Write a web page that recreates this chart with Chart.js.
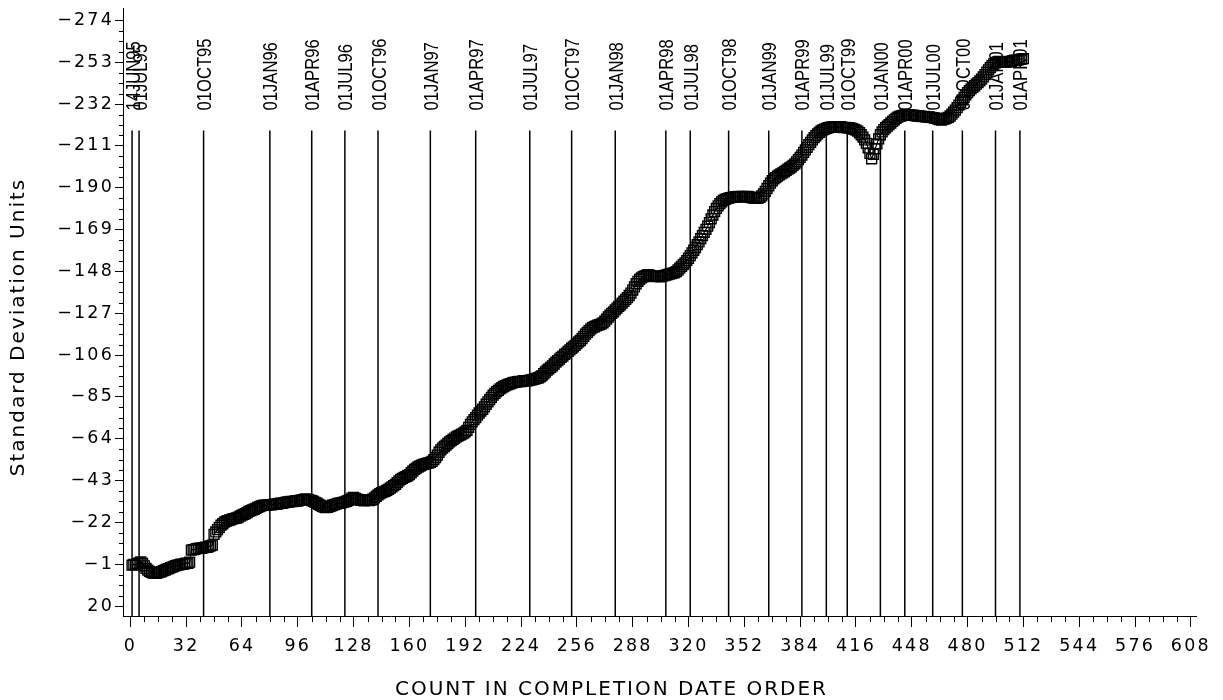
<!DOCTYPE html>
<html>
<head>
<meta charset="utf-8">
<script src="https://cdn.jsdelivr.net/npm/chart.js@4.4.1/dist/chart.umd.min.js"></script>
<style>
  html, body { margin: 0; padding: 0; background: #fff; }
  #c { display: block; }
</style>
</head>
<body>
<canvas id="c" width="1223" height="700"></canvas>
<script>
// Cumulative sum (standard deviation units), one value per count in completion-date order.
const cusum = [
  -0.5, -0.9, -0.7, -1.3, -1.6, -2.1, -1.4, -0.2, 1.1, 2.0,
  2.6, 3.1, 3.5, 3.3, 3.6, 3.2, 3.0, 2.7, 2.2, 1.9,
  1.5, 1.2, 0.7, 0.5, 0.1, -0.3, -0.5, -0.7, -1.0, -0.9,
  -1.2, -1.5, -1.4, -2.0, -8.1, -8.3, -8.4, -8.8, -8.9, -9.1,
  -9.0, -9.3, -9.6, -9.5, -9.9, -10.2, -10.6, -16.0, -17.2, -18.4,
  -19.5, -20.6, -21.3, -22.1, -22.6, -22.9, -23.2, -23.5, -23.9, -24.0,
  -24.2, -24.6, -25.1, -25.6, -26.0, -26.4, -26.9, -27.5, -27.9, -28.3,
  -28.6, -29.0, -29.5, -29.9, -30.3, -30.5, -30.6, -30.5, -30.8, -30.9,
  -30.8, -31.0, -31.2, -31.1, -31.4, -31.6, -31.5, -31.8, -32.0, -32.3,
  -32.2, -32.5, -32.4, -32.6, -32.8, -32.7, -33.0, -33.2, -33.4, -33.6,
  -33.7, -33.5, -33.2, -32.9, -32.5, -32.0, -31.6, -31.0, -30.5, -30.0,
  -29.7, -29.4, -29.5, -29.9, -30.2, -30.6, -30.9, -31.2, -31.5, -31.6,
  -31.8, -32.0, -32.3, -32.6, -33.0, -33.4, -34.2, -34.5, -34.0, -33.6,
  -33.4, -33.1, -33.0, -32.8, -33.0, -33.1, -32.9, -33.2, -33.6, -34.3,
  -35.1, -35.8, -36.4, -36.9, -37.3, -37.6, -38.1, -38.6, -39.2, -39.8,
  -40.4, -41.1, -42.0, -42.8, -43.6, -44.1, -44.6, -45.0, -45.4, -46.0,
  -46.9, -47.8, -48.6, -49.2, -49.8, -50.3, -50.7, -51.1, -51.4, -51.6,
  -51.8, -52.1, -52.6, -53.5, -54.5, -55.8, -57.2, -58.4, -59.3, -60.1,
  -60.8, -61.6, -62.4, -63.0, -63.7, -64.3, -64.9, -65.4, -65.8, -66.3,
  -66.8, -67.4, -68.2, -69.7, -71.2, -72.5, -73.6, -74.6, -75.8, -76.9,
  -77.9, -78.8, -80.0, -81.3, -82.5, -83.6, -84.8, -85.9, -86.8, -87.6,
  -88.3, -89.0, -89.6, -90.2, -90.6, -91.0, -91.4, -91.7, -92.0, -92.3,
  -92.4, -92.6, -92.8, -92.7, -93.0, -93.1, -92.9, -93.2, -93.4, -93.5,
  -93.8, -94.1, -94.3, -94.6, -95.0, -95.7, -96.6, -97.5, -98.4, -99.1,
  -99.8, -100.6, -101.5, -102.4, -103.2, -104.0, -104.8, -105.5, -106.3, -107.0,
  -107.8, -108.6, -109.4, -110.1, -110.9, -111.7, -112.6, -113.3, -114.3, -115.4,
  -116.5, -117.4, -118.3, -119.1, -119.8, -120.2, -120.6, -121.0, -121.3, -121.6,
  -122.2, -123.0, -124.0, -125.1, -126.0, -126.9, -127.7, -128.7, -129.6, -130.4,
  -131.2, -132.1, -133.0, -133.9, -134.8, -135.9, -137.1, -138.6, -140.2, -141.8,
  -143.0, -144.0, -144.7, -145.3, -145.7, -146.1, -146.3, -146.0, -145.7, -145.5,
  -145.4, -145.6, -145.5, -145.3, -145.6, -145.9, -146.1, -146.4, -146.6, -146.9,
  -147.1, -147.4, -147.9, -148.7, -149.6, -150.5, -151.4, -152.3, -153.4, -154.6,
  -155.9, -157.3, -158.6, -160.0, -161.4, -162.8, -164.4, -166.0, -167.6, -169.1,
  -170.7, -172.5, -174.4, -176.3, -178.0, -179.6, -180.9, -182.0, -182.9, -183.6,
  -184.1, -184.5, -184.8, -185.0, -185.2, -185.3, -185.5, -185.4, -185.6, -185.5,
  -185.7, -185.5, -185.4, -185.6, -185.3, -185.1, -184.9, -184.7, -184.6, -184.8,
  -185.2, -185.9, -186.9, -188.2, -189.6, -191.0, -192.3, -193.5, -194.4, -195.1,
  -195.8, -196.4, -196.9, -197.5, -198.1, -198.7, -199.3, -199.9, -200.5, -201.2,
  -202.0, -203.0, -204.1, -205.2, -206.4, -207.7, -209.0, -210.3, -211.6, -212.8,
  -214.0, -215.1, -216.1, -217.0, -217.8, -218.5, -219.0, -219.4, -219.8, -220.1,
  -220.3, -220.5, -220.4, -220.6, -220.5, -220.3, -220.6, -220.4, -220.2, -220.3,
  -220.0, -220.2, -219.9, -219.6, -219.3, -218.9, -218.4, -217.6, -216.6, -215.4,
  -214.0, -212.3, -210.0, -207.2, -204.5, -206.8, -209.5, -212.0, -214.5, -216.6,
  -218.0, -219.2, -220.1, -220.9, -221.7, -222.5, -223.3, -224.1, -224.8, -225.4,
  -225.8, -226.1, -226.3, -226.5, -226.4, -226.6, -226.5, -226.3, -226.4, -226.2,
  -226.0, -226.1, -225.9, -225.7, -225.8, -225.6, -225.4, -225.5, -225.3, -225.2,
  -225.0, -224.8, -224.5, -224.2, -224.0, -224.3, -224.6, -224.9, -225.3, -226.0,
  -226.9, -227.9, -229.0, -230.2, -231.5, -232.8, -234.1, -235.4, -236.6, -237.7,
  -238.7, -239.6, -240.4, -241.2, -242.0, -242.8, -243.6, -244.5, -245.6, -246.8,
  -248.0, -249.2, -250.3, -251.3, -252.1, -252.7, -253.1, -253.4, -253.2, -253.0,
  -252.9, -253.1, -253.3, -253.2, -253.5, -253.8, -254.0, -253.9, -254.2, -254.4,
  -254.6, -254.8
];

// Axis tick values
const yTickValues = [-274, -253, -232, -211, -190, -169, -148, -127, -106, -85, -64, -43, -22, -1, 20];
const xTickValues = [0, 32, 64, 96, 128, 160, 192, 224, 256, 288, 320, 352, 384, 416, 448, 480, 512, 544, 576, 608];

// Calendar reference lines: count at which each date falls, and its label
const refCounts = [1, 5, 42, 80, 104, 123, 142, 172, 198, 229, 253, 278, 307, 321, 343, 366, 385, 399, 411, 430, 444, 460, 477, 496, 510];
const refLabels = ['14JUN95', '01JUL95', '01OCT95', '01JAN96', '01APR96', '01JUL96', '01OCT96',
  '01JAN97', '01APR97', '01JUL97', '01OCT97', '01JAN98', '01APR98', '01JUL98', '01OCT98',
  '01JAN99', '01APR99', '01JUL99', '01OCT99', '01JAN00', '01APR00', '01JUL00', '01OCT00',
  '01JAN01', '01APR01'];

const xTitle = 'COUNT IN COMPLETION DATE ORDER';
const yTitle = 'Standard Deviation Units';

const points = cusum.map((v, i) => ({ x: i + 1, y: v }));

const TICK_FONT = { family: '"DejaVu Sans", sans-serif', size: 17.5, lineHeight: 0.85 };
const TICK_SPACING = '2.2px';

const decorations = {
  id: 'decorations',
  beforeLayout(chart) { chart.ctx.letterSpacing = TICK_SPACING; },
  beforeDraw(chart) { chart.ctx.letterSpacing = TICK_SPACING; },
  beforeDatasetsDraw(chart) {
    const { ctx, chartArea, scales: { x } } = chart;
    ctx.save();
    // reference lines
    ctx.strokeStyle = '#000';
    ctx.lineWidth = 1.5;
    refCounts.forEach(c => {
      const px = x.getPixelForValue(c);
      ctx.beginPath();
      ctx.moveTo(px, chartArea.top + 122);
      ctx.lineTo(px, chartArea.bottom);
      ctx.stroke();
    });
    // rotated date labels above the lines
    ctx.letterSpacing = '0px';
    ctx.fillStyle = '#000';
    ctx.font = '20px "Liberation Sans", Arial, sans-serif';
    ctx.textAlign = 'left';
    ctx.textBaseline = 'middle';
    refCounts.forEach((c, i) => {
      const px = x.getPixelForValue(c);
      ctx.save();
      ctx.translate(px + 2, chartArea.top + 102);
      ctx.rotate(-Math.PI / 2);
      ctx.scale(0.83, 1);
      ctx.fillText(refLabels[i], 0, 0);
      ctx.restore();
    });
    ctx.restore();
  },
  afterDraw(chart) {
    const { ctx, chartArea, scales: { x, y } } = chart;
    ctx.save();
    ctx.strokeStyle = '#000';
    ctx.lineWidth = 1;
    // minor ticks: three between each pair of major ticks
    for (let i = 0; i < yTickValues.length - 1; i++) {
      const a = yTickValues[i], b = yTickValues[i + 1];
      for (let k = 1; k < 4; k++) {
        const py = Math.round(y.getPixelForValue(a + (b - a) * k / 4)) + 0.5;
        ctx.beginPath();
        ctx.moveTo(chartArea.left - 4, py);
        ctx.lineTo(chartArea.left, py);
        ctx.stroke();
      }
    }
    for (let i = 0; i < xTickValues.length - 1; i++) {
      const a = xTickValues[i], b = xTickValues[i + 1];
      for (let k = 1; k < 4; k++) {
        const px = Math.round(x.getPixelForValue(a + (b - a) * k / 4)) + 0.5;
        ctx.beginPath();
        ctx.moveTo(px, chartArea.bottom);
        ctx.lineTo(px, chartArea.bottom + 6);
        ctx.stroke();
      }
    }
    // axis titles
    ctx.fillStyle = '#000';
    ctx.letterSpacing = '2px';
    ctx.font = '20px "DejaVu Sans", sans-serif';
    ctx.textAlign = 'center';
    ctx.textBaseline = 'middle';
    ctx.fillText(xTitle, chart.width / 2, 690);
    ctx.save();
    ctx.translate(19, 327);
    ctx.rotate(-Math.PI / 2);
    ctx.fillText(yTitle, 0, 0);
    ctx.restore();
    ctx.restore();
  }
};

new Chart(document.getElementById('c'), {
  type: 'line',
  data: {
    datasets: [{
      data: points,
      borderColor: '#000',
      borderWidth: 1.2,
      tension: 0,
      fill: false,
      pointStyle: 'rect',
      pointRadius: 7,
      pointBorderWidth: 1.4,
      pointBorderColor: '#000',
      pointBackgroundColor: 'rgba(255,255,255,0)'
    }]
  },
  options: {
    responsive: false,
    devicePixelRatio: 1,
    animation: false,
    events: [],
    layout: { padding: { top: 8, right: 24, left: 0, bottom: 0 } },
    plugins: { legend: { display: false }, tooltip: { enabled: false } },
    scales: {
      x: {
        type: 'linear',
        min: -4.2,
        max: 611.4,
        afterBuildTicks: s => { s.ticks = xTickValues.map(v => ({ value: v })); },
        afterFit: s => { s.height = 84; },
        ticks: { color: '#000', font: TICK_FONT, padding: 12, maxRotation: 0, autoSkip: false },
        grid: { drawOnChartArea: false, drawTicks: true, tickLength: 11, tickColor: '#000', tickWidth: 1 },
        border: { display: true, color: '#000', width: 1 }
      },
      y: {
        type: 'linear',
        reverse: true,
        min: -280,
        max: 25,
        afterBuildTicks: s => { s.ticks = yTickValues.map(v => ({ value: v })); },
        afterFit: s => { s.width = 123; },
        ticks: {
          color: '#000', font: TICK_FONT, padding: 1, autoSkip: false,
          callback: v => (v < 0 ? '\u2212' + Math.abs(v) : String(v))
        },
        grid: { drawOnChartArea: false, drawTicks: true, tickLength: 8, tickColor: '#000', tickWidth: 1 },
        border: { display: true, color: '#000', width: 1 }
      }
    }
  },
  plugins: [decorations]
});
</script>
</body>
</html>
